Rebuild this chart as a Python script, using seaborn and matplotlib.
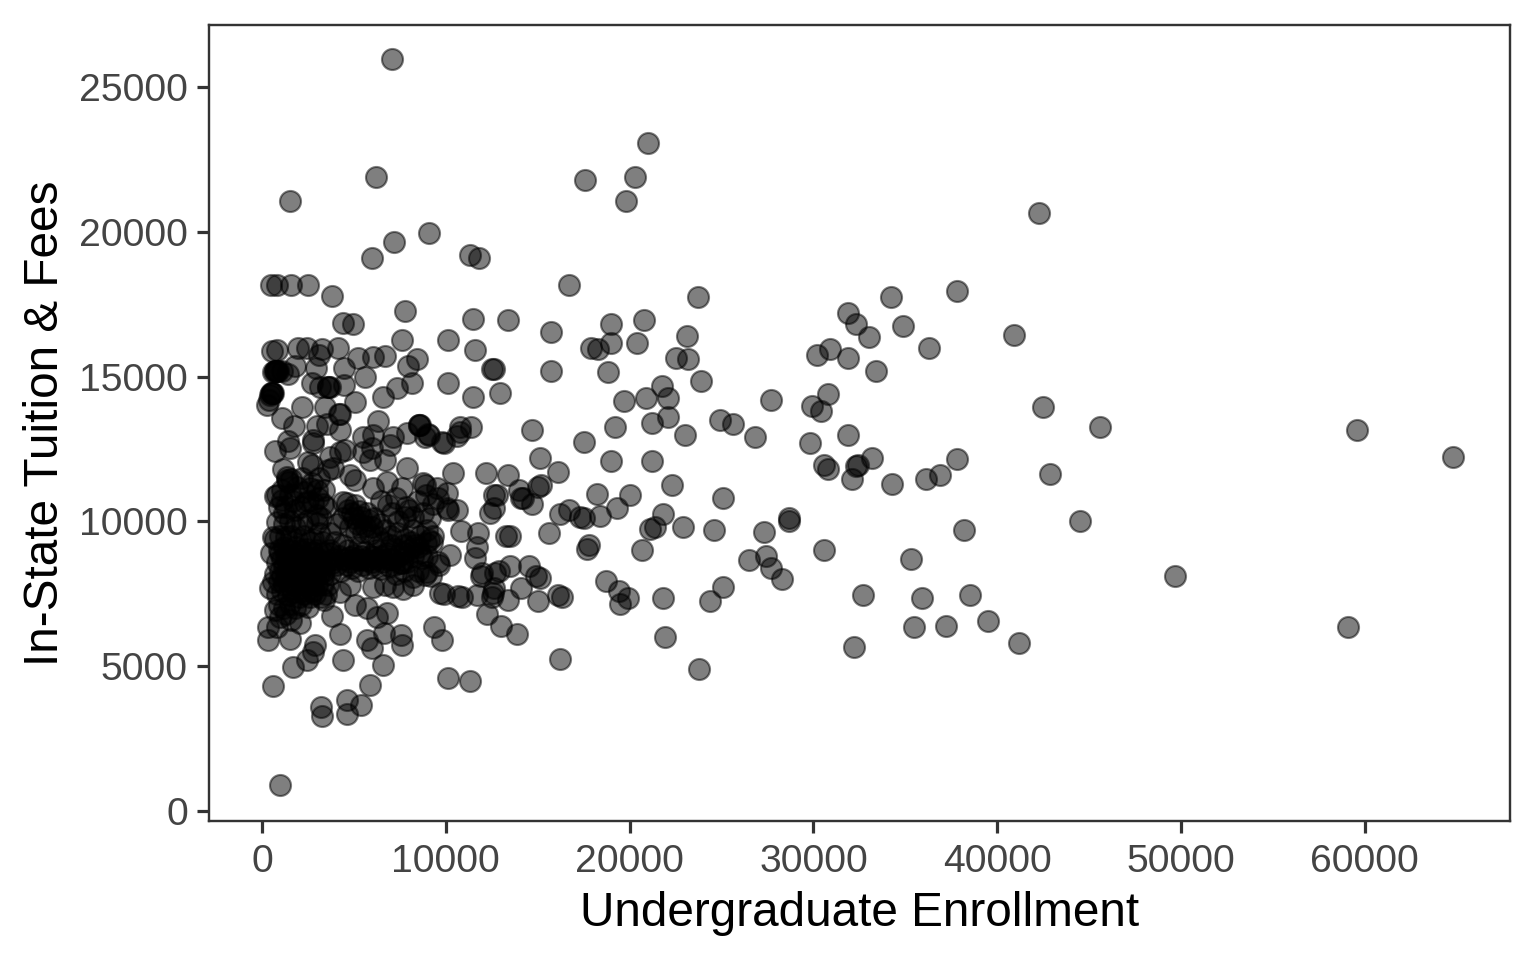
import numpy as np
import pandas as pd
import matplotlib
matplotlib.use('Agg')
import matplotlib.pyplot as plt
import seaborn as sns

# values: (undergrad enrollment, in-state tuition & fees)
wide_schools = [
    (64800,12220),(59600,13150),(59100,6350),(49700,8100),(45600,13250),(44500,10000),(42900,11650),
    (42500,13950),(41200,5800),(39500,6550),(38500,7450),(38200,9700),(37800,12150),(37200,6400),
    (36900,11600),(36100,11450),(35900,7350),(35500,6350),(35300,8700),(34300,11300),(33200,12200),
    (33400,15200),(32700,7450),(32300,11900),(32400,11950),(32100,11450),(32200,5650),(31900,13000),
    (30600,9000),(30600,11950),(30800,11800),(30800,14400),(30400,13800),(29900,14000),(29800,12700),
    (28700,10000),(28700,10100),(28300,8000),(27700,8400),(27400,8800),(27300,9650),(27700,14200),
    (26800,12900),(26500,8650),(25600,13350),(24900,13500),(25100,10800),(24600,9700),(24400,7250),
    (25100,7750),(23800,4900),(23900,14850),(21760,14680),(22090,14260),(20900,14250),(19700,14150),
    (22100,13600),(21200,13400),(23000,13000),(21200,12100),(19200,13250),(17500,12750),(19000,12100),
    (16100,11700),(22300,11250),(20000,10900),(18200,10950),(15000,11200),(15200,11250),(14700,13150),
    (15100,12200),(15700,15200),(18800,15150),(21800,10250),(21100,9750),(21400,9800),(22900,9800),
    (20700,9000),(18400,10200),(19300,10450),(16200,10250),(16700,10400),(17300,10150),(17500,10100),
    (15600,9600),(17800,9200),(17700,9050),(18700,7950),(19400,7600),(19500,7150),(19900,7350),
    (21800,7350),(21900,6000),(16100,7450),(16300,7400),(16200,5250),(15100,8050),(14900,8100),
    (15000,7250),(14500,8450),(13500,8450),(14100,7700),(13400,7300),(13000,6400),(13900,6100),
]
top_schools = [
    (7100,25950),(21000,23050),(6200,21900),(20300,21900),(17600,21800),(1550,21050),(19800,21050),
    (42300,20650),(9100,19950),(7200,19650),(11300,19200),(11800,19100),(6000,19100),(500,18150),
    (800,18150),(1600,18150),(2500,18150),(16700,18150),(23700,17750),(37800,17950),(34200,17750),
    (31900,17200),(32300,16800),(34900,16750),(13400,16950),(19000,16800),(20800,16950),(40900,16450),
    (23100,16400),(33000,16350),(15700,16550),(19000,16150),(20400,16150),(17900,15990),(18300,15950),
    (36300,16000),(30900,15950),(30200,15750),(31900,15650),(22500,15650),(23200,15600),
]
upper_left = [
    (3800,17780),(4400,16850),(4950,16800),(7780,17270),(11480,16990),(7620,16260),(10100,16260),
    (11590,15920),(12500,15250),(12650,15260),(540,15880),(820,15910),(1970,15980),
    (2450,15980),(3260,15950),(4130,15990),(3100,15750),(5220,15640),(6040,15680),(6690,15710),
    (8430,15610),(7940,15370),(2940,15300),(4460,15300),(1800,15370),(710,15190),(710,15190),
    (760,15190),(820,15190),(870,15190),(600,15150),(1100,15190),(1400,15100),(5600,14990),
    (8160,14780),(7350,14610),(6580,14290),(10120,14780),(11480,14300),(12950,14430),(540,14430),
    (540,14430),(490,14430),(600,14430),(440,14380),(270,14020),(380,14200),(1090,13570),
    (2180,13950),(1740,13290),(3590,14640),(3590,14640),(3700,14640),(3160,14640),(2720,14780),
    (4460,14710),(5060,14120),(3430,13950),(4190,13710),(4250,13710),(2990,13290),(3540,13360),
    (4240,13160),(6310,13470),(8540,13330),(8540,13330),(8600,13330),(9030,13020),(9100,13000),
    (8870,12910),(9790,12740),(10610,12950),(10770,13260),(11370,13260),(7890,13050),(7130,12910),
    (5500,12910),(6040,12980),(5980,12530),(5500,12400),(5880,12120),(6690,12120),(6960,12640),
    (7890,11840),(10390,11670),(12190,11670),(13400,11600),(1410,12780),(1520,12530),(710,12430),
    (2770,12810),(2770,12700),(1140,11810),(2500,12050),(2720,11950),(4240,12400),(4520,12470),
    (3700,12220),(3860,11840),(3590,11780),(4790,11600),(1360,11530),(1600,11450),
]
mid_band = [
    (1360,11430),(1400,11350),(820,10910),(1090,10740),(710,10880),(2720,11330),(2990,11080),
    (3050,10810),(2770,10640),(2340,10640),(2990,10220),(2990,9950),(5060,11430),(4410,10670),
    (4620,10640),(5060,10570),(6860,10570),(7830,10500),(6040,11150),(6800,11360),(7620,11150),
    (8870,11260),(8760,11330),(9520,11150),(10070,10980),(10070,10460),(10120,10390),(10610,10390),
    (9140,10120),(8220,10150),(8760,10290),(10830,9670),(11750,9600),(11700,9120),(11590,8740),
    (11970,8220),(12680,8220),(9250,9290),(9100,9350),(10230,8840),(9580,8600),(9630,8500),
    (8870,8150),(9000,8250),(8220,8080),(7620,8560),(8700,8740),(9680,7530),(9900,7480),
    (10660,7420),(10900,7400),(11700,7460),(12570,7530),(12500,7400),(12600,7700),(12240,6800),
    (13300,9500),(13500,9500),(12400,10300),(12600,10450),(12600,10900),(12800,10900),(14000,11100),
    (14200,10800),(14700,10600),(14100,10800),(10800,13100),(9900,12700),
]
lower_band = [
    (7670,7670),(7130,7730),(6690,7800),(6040,7730),(8220,7800),(5330,8670),(6040,8770),(4790,8770),
    (3700,8910),(3970,9290),(3810,6730),(5060,7110),(5710,7010),(4240,7560),(4790,7800),(6260,6700),
    (6800,6840),(4240,6110),(6640,6150),(5710,5900),(5980,5630),(7560,6080),(7620,5730),(9360,6350),
    (9790,5900),(2880,5730),(2770,5490),(2450,5210),(4410,5210),(1690,4970),(6580,5040),(2070,6490),
    (1520,5940),(330,5900),(330,6350),(820,6350),(710,6940),(3200,3600),(3250,3280),(4650,3350),
    (4650,3850),(5400,3650),(5900,4350),(600,4300),(1000,900),(11300,4500),(10100,4600),
    (11900,8100),(12900,8300),
]
dense_left = [
    (600,9460),(820,9980),(1200,9900),(1500,10000),(1800,9800),(2200,9900),(2500,10050),(700,9400),
    (1000,9500),(1300,9450),(1600,9500),(1900,9400),(2300,9500),(2600,9300),(500,8900),(900,9000),
    (1200,9100),(1500,9000),(1800,9100),(2100,9000),(2400,9050),(2700,8950),(3000,9000),(3300,8900),
    (800,8600),(1100,8700),(1400,8600),(1700,8650),(2000,8600),(2300,8700),(2600,8550),(2900,8600),
    (3200,8500),(3500,8600),(3800,8550),(700,8200),(1000,8300),(1300,8200),(1600,8300),(1900,8200),
    (2200,8300),(2500,8200),(2800,8250),(3100,8200),(600,7900),(900,7950),(1200,7850),(1500,7950),
    (1800,7800),(2100,7900),(2400,7800),(2700,7900),(3000,7800),(3300,7850),(440,7700),(800,7500),
    (1100,7600),(1400,7450),(1700,7550),(2000,7400),(2300,7500),(2600,7400),(2900,7500),(3200,7400),
    (900,7100),(1200,7000),(1500,7150),(1800,7000),(2100,7100),(2500,7050),(1000,6700),(1300,6800),
    (1600,6600),(3400,7300),(1800,10400),(2100,10500),(1200,10300),(900,10500),
    (1100,11100),(1500,10900),(1900,11200),(2300,11000),(2600,11150),(1700,10700),(2500,10700),(3300,10600),
    (3400,11100),(3100,11500),(2200,11500),(1300,10500),(3100,9600),(3200,10100),(2800,9400),(3300,9300),
    (1000,8900),(1300,8850),(1600,8800),(1900,8850),(2200,8700),(2500,8750),(2800,8700),(3100,8700),
    (3400,8300),(3700,8200),(3600,7800),(3500,7500),(2800,7600),(2200,7600),(1500,8400),(1200,8450),
    (2000,8100),(2400,8400),(2900,8050),(3300,8100),(1600,7700),(1100,8100),(3700,9000),(3900,8700),
]
dense_right = [
    (4800,9800),(5000,10100),(5200,9900),(5400,10150),(5600,9850),(5800,10050),(6000,9800),(4900,10300),
    (5300,10350),(5700,10300),(6100,10100),(6400,9900),(6700,9700),(4400,9200),(4700,9000),(5000,8850),
    (5300,9100),(5600,8950),(5900,8800),(6200,9000),(6500,8800),(6800,8900),(7100,8700),(7400,8800),
    (7700,8900),(8000,9000),(8300,9200),(7000,9500),(7400,9600),(7800,9400),(8200,9700),(8600,9500),
    (9000,9700),(4000,8500),(4300,8300),(4600,8500),(4900,8400),(5200,8300),(5500,8500),(5800,8400),
    (6100,8500),(6500,8350),(6900,8450),(7300,8200),(7700,8300),(8500,8300),(9200,8100),(3500,10500),
    (6500,10700),(7100,10300),
    (4200,8800),(4500,8700),(4800,8600),(5100,8700),(5400,8800),(5700,8650),(6000,8600),(6300,8700),
    (6600,8600),(6900,8700),(7200,8500),(7500,8550),(7900,8600),(8200,8800),(8600,8900),(9000,8800),
    (3700,9600),(4100,9900),(4400,10100),(4700,10400),(5100,9600),(5500,9650),(5900,9550),(6300,9450),
    (6600,9300),(7000,9200),(7300,9050),(7700,9200),(8100,9300),(8500,9100),(8900,9250),(9300,9500),
    (7400,10000),(7800,10150),(8000,10400),(8500,10700),(8900,10900),(9300,10600),(9600,10800),(7300,10800),
]

df = pd.DataFrame(wide_schools + top_schools + upper_left + mid_band + lower_band + dense_left + dense_right,
                  columns=['enrollment', 'tuition'])

sns.set_theme(style='white')
plt.rcParams['font.family'] = ['Liberation Sans', 'DejaVu Sans']

fig = plt.figure(figsize=(8, 5), dpi=192)
ax = fig.add_axes([209/1536, 1 - 821/960, (1510 - 209)/1536, (821 - 25)/960])

sns.scatterplot(data=df, x='enrollment', y='tuition', ax=ax, color='black', alpha=0.5,
                s=62, linewidth=0.8, edgecolor='black', legend=False)

ax.set_xlim(-2883, 67900)
ax.set_ylim(-345, 27140)
ax.set_xticks(np.arange(0, 60001, 10000))
ax.set_yticks(np.arange(0, 25001, 5000))
ax.tick_params(axis='both', length=4.4, width=1.2, color='#333333', labelcolor='#444444',
               labelsize=14.7, left=True, bottom=True)
ax.tick_params(axis='x', pad=4.2)
ax.tick_params(axis='y', pad=3.5)
for spine in ax.spines.values():
    spine.set_color('#333333')
    spine.set_linewidth(0.9)
ax.set_xlabel('Undergraduate Enrollment', fontsize=17.9, color='black', labelpad=4)
ax.set_ylabel('In-State Tuition & Fees', fontsize=17.9, color='black', labelpad=4)

fig.savefig('out.png', dpi=192)
